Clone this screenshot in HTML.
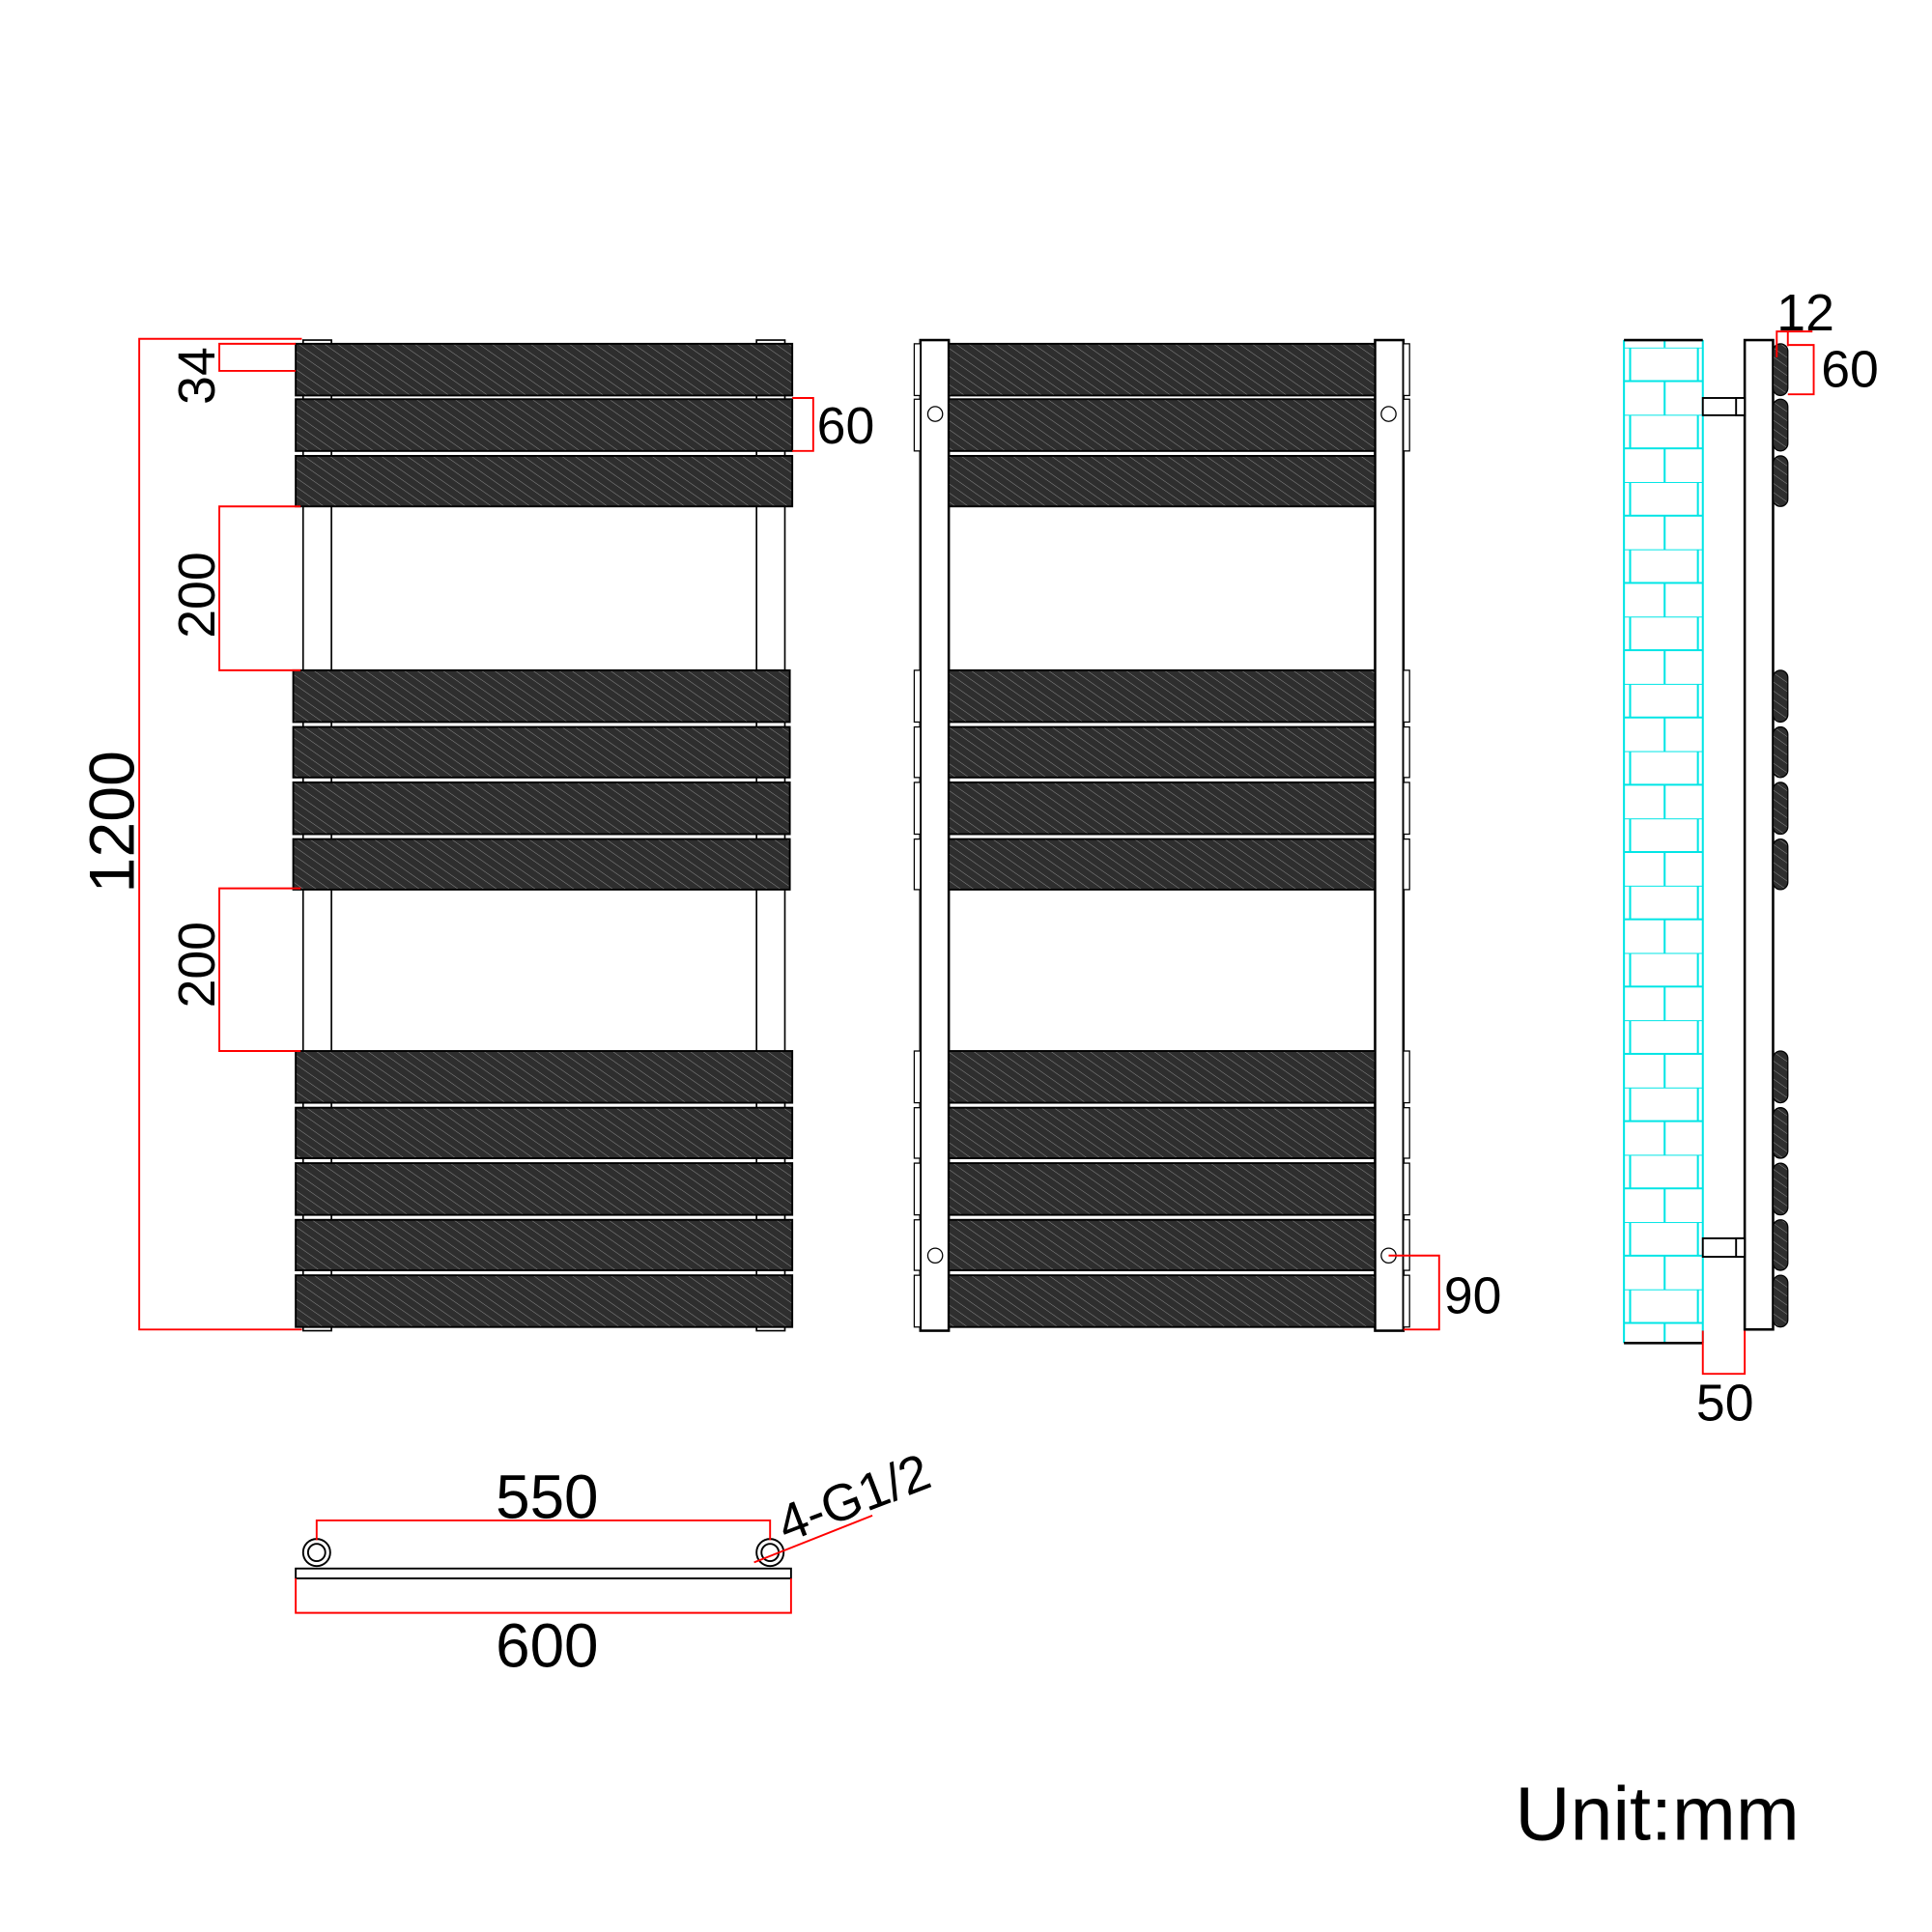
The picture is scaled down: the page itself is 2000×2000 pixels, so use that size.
<!DOCTYPE html>
<html><head><style>html,body{margin:0;padding:0;background:#fff}svg{display:block}</style></head>
<body>
<svg width="2000" height="2000" viewBox="0 0 1568 1568" xmlns="http://www.w3.org/2000/svg" font-family="Liberation Sans, sans-serif">
<defs>
<pattern id="h" width="6" height="6" patternUnits="userSpaceOnUse" patternTransform="rotate(-55)">
<rect width="6" height="6" fill="#2e2e2e"/><line x1="0" y1="0" x2="0" y2="6" stroke="#8a8a8a" stroke-width="0.8"/>
</pattern>
<pattern id="b" x="1318" y="282" width="64" height="54.6" patternUnits="userSpaceOnUse">
<rect width="64" height="54.6" fill="#fff"/>
<g stroke="#00e5e5" stroke-width="1.6" fill="none">
<line x1="0" y1="0" x2="64" y2="0"/><line x1="0" y1="27.3" x2="64" y2="27.3"/>
<line x1="5" y1="0" x2="5" y2="27.3"/><line x1="60" y1="0" x2="60" y2="27.3"/>
<line x1="33" y1="27.3" x2="33" y2="54.6"/>
</g></pattern>
</defs>
<g stroke="#000" stroke-width="1.3" fill="none">
<rect x="246" y="276" width="23" height="804" fill="#fff"/>
<rect x="614" y="276" width="23" height="804" fill="#fff"/>
<rect x="747" y="276" width="23" height="804" fill="#fff" stroke-width="2"/>
<rect x="1116" y="276" width="23" height="804" fill="#fff" stroke-width="2"/>
</g>
<g stroke="#000" stroke-width="1.5" fill="url(#h)">
<rect x="240" y="279" width="403" height="42"/><rect x="240" y="324" width="403" height="42"/><rect x="240" y="370" width="403" height="41"/>
<rect x="238" y="544" width="403" height="42"/><rect x="238" y="590" width="403" height="41"/><rect x="238" y="635" width="403" height="42"/><rect x="238" y="681" width="403" height="41"/>
<rect x="240" y="853" width="403" height="42"/><rect x="240" y="899" width="403" height="41"/><rect x="240" y="944" width="403" height="42"/><rect x="240" y="990" width="403" height="41"/><rect x="240" y="1035" width="403" height="42"/>
<rect x="770" y="279" width="346" height="42"/><rect x="770" y="324" width="346" height="42"/><rect x="770" y="370" width="346" height="41"/>
<rect x="770" y="544" width="346" height="42"/><rect x="770" y="590" width="346" height="41"/><rect x="770" y="635" width="346" height="42"/><rect x="770" y="681" width="346" height="41"/>
<rect x="770" y="853" width="346" height="42"/><rect x="770" y="899" width="346" height="41"/><rect x="770" y="944" width="346" height="42"/><rect x="770" y="990" width="346" height="41"/><rect x="770" y="1035" width="346" height="42"/>
</g>
<g stroke="#000" stroke-width="1" fill="#fff">
<rect x="742" y="279" width="5" height="42"/><rect x="1139" y="279" width="5" height="42"/>
<rect x="742" y="324" width="5" height="42"/><rect x="1139" y="324" width="5" height="42"/>
<rect x="742" y="544" width="5" height="42"/><rect x="1139" y="544" width="5" height="42"/>
<rect x="742" y="590" width="5" height="41"/><rect x="1139" y="590" width="5" height="41"/>
<rect x="742" y="635" width="5" height="42"/><rect x="1139" y="635" width="5" height="42"/>
<rect x="742" y="681" width="5" height="41"/><rect x="1139" y="681" width="5" height="41"/>
<rect x="742" y="853" width="5" height="42"/><rect x="1139" y="853" width="5" height="42"/>
<rect x="742" y="899" width="5" height="41"/><rect x="1139" y="899" width="5" height="41"/>
<rect x="742" y="944" width="5" height="42"/><rect x="1139" y="944" width="5" height="42"/>
<rect x="742" y="990" width="5" height="41"/><rect x="1139" y="990" width="5" height="41"/>
<rect x="742" y="1035" width="5" height="42"/><rect x="1139" y="1035" width="5" height="42"/>
<circle cx="759" cy="336" r="6"/><circle cx="1127" cy="336" r="6"/><circle cx="759" cy="1019" r="6"/><circle cx="1127" cy="1019" r="6"/>
</g>
<rect x="1318" y="282" width="64" height="808" fill="url(#b)"/>
<g stroke="#00e5e5" stroke-width="1.6"><line x1="1318" y1="276" x2="1318" y2="1090"/><line x1="1382" y1="276" x2="1382" y2="1090"/><line x1="1351" y1="276" x2="1351" y2="282"/></g>
<g stroke="#000" stroke-width="2" fill="#fff">
<line x1="1318" y1="276" x2="1382" y2="276"/><line x1="1318" y1="1090" x2="1382" y2="1090"/>
<rect x="1416" y="276" width="23" height="803"/>
<rect x="1382" y="323" width="34" height="14" stroke-width="1.5"/><rect x="1409" y="323" width="7" height="14" stroke-width="1.5"/>
<rect x="1382" y="1005" width="34" height="15" stroke-width="1.5"/><rect x="1409" y="1005" width="7" height="15" stroke-width="1.5"/>
</g>
<g fill="url(#h)" stroke="#000" stroke-width="1">
<rect x="1439" y="279" width="12" height="42" rx="6"/><rect x="1439" y="324" width="12" height="42" rx="6"/><rect x="1439" y="370" width="12" height="41" rx="6"/>
<rect x="1439" y="544" width="12" height="42" rx="6"/><rect x="1439" y="590" width="12" height="41" rx="6"/><rect x="1439" y="635" width="12" height="42" rx="6"/><rect x="1439" y="681" width="12" height="41" rx="6"/>
<rect x="1439" y="853" width="12" height="42" rx="6"/><rect x="1439" y="899" width="12" height="41" rx="6"/><rect x="1439" y="944" width="12" height="42" rx="6"/><rect x="1439" y="990" width="12" height="41" rx="6"/><rect x="1439" y="1035" width="12" height="42" rx="6"/>
</g>
<g stroke="#000" stroke-width="1.5" fill="#fff">
<rect x="240" y="1273" width="402" height="8"/>
<circle cx="257" cy="1260" r="11"/><circle cx="257" cy="1260" r="7"/>
<circle cx="625" cy="1260" r="11"/><circle cx="625" cy="1260" r="7"/>
</g>
<g stroke="#f00" stroke-width="1.5" fill="none">
<polyline points="245,275 113,275 113,1079 245,1079"/>
<polyline points="240,279 178,279 178,301 240,301"/>
<polyline points="244,411 178,411 178,544 244,544"/>
<polyline points="244,721 178,721 178,853 244,853"/>
<polyline points="643,323 660,323 660,366 643,366"/>
<polyline points="1127,1019 1168,1019 1168,1079 1139,1079"/>
<polyline points="1382,1080 1382,1115 1416,1115 1416,1080"/>
<polyline points="1442,290 1442,269 1471,269"/><line x1="1451" y1="269" x2="1451" y2="281"/>
<polyline points="1451,280 1472,280 1472,320 1451,320"/>
<polyline points="257,1250 257,1234 625,1234 625,1250"/>
<polyline points="240,1281 240,1309 642,1309 642,1281"/>
<line x1="612" y1="1268" x2="708" y2="1230"/>
</g>
<g fill="#000">
<text x="95" y="667" font-size="52" text-anchor="middle" dominant-baseline="middle" transform="rotate(-90 95 667)">1200</text>
<text x="163" y="305" font-size="42" text-anchor="middle" dominant-baseline="middle" transform="rotate(-90 163 305)">34</text>
<text x="163" y="483" font-size="42" text-anchor="middle" dominant-baseline="middle" transform="rotate(-90 163 483)">200</text>
<text x="163" y="783" font-size="42" text-anchor="middle" dominant-baseline="middle" transform="rotate(-90 163 783)">200</text>
<text x="663" y="360" font-size="42">60</text>
<text x="1172" y="1066" font-size="42">90</text>
<text x="1400" y="1153" font-size="42" text-anchor="middle">50</text>
<text x="1442" y="268" font-size="42">12</text>
<text x="1478" y="314" font-size="42">60</text>
<text x="444" y="1232" font-size="50" text-anchor="middle">550</text>
<text x="444" y="1353" font-size="50" text-anchor="middle">600</text>
<text x="638" y="1252" font-size="42" transform="rotate(-21 638 1252)">4-G1/2</text>
<text x="1345" y="1493" font-size="62" text-anchor="middle">Unit:mm</text>
</g>
</svg>
</body></html>
